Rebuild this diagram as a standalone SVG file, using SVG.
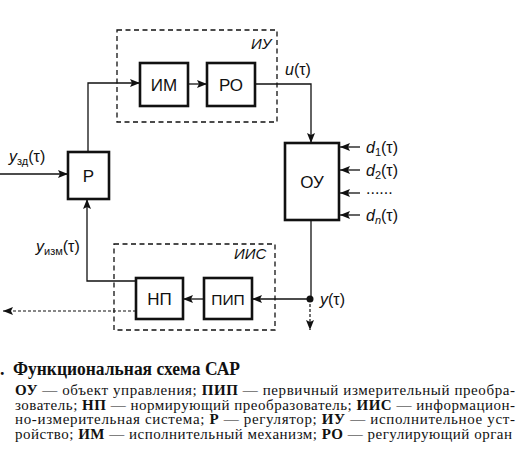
<svg xmlns="http://www.w3.org/2000/svg" width="531" height="474" viewBox="0 0 531 474">
<defs>
<marker id="ah" viewBox="0 0 10 8" refX="10" refY="4" markerWidth="11" markerHeight="8" markerUnits="userSpaceOnUse" orient="auto">
<path d="M0,0 L10,4 L0,8 L2,4 Z" fill="#111"/>
</marker>
</defs>
<style>
.box{fill:#fff;stroke:#111;stroke-width:2.6}
.grp{fill:none;stroke:#111;stroke-width:1.3;stroke-dasharray:5,3.5}
.ln{fill:none;stroke:#111;stroke-width:1.3}
.dl{fill:none;stroke:#111;stroke-width:1.2;stroke-dasharray:3,2}
.bl{font-family:"Liberation Sans",Arial,sans-serif;font-size:17px;fill:#111;text-anchor:middle}
.gl{font-family:"Liberation Sans",Arial,sans-serif;font-size:15px;font-style:italic;fill:#111}
.sl{font-family:"Liberation Sans",Arial,sans-serif;font-size:16px;fill:#111}
.i{font-style:italic}
.sub{font-size:11px}
.cap{font-family:"Liberation Serif","Times New Roman",serif;font-size:15px;fill:#111}
.ttl{font-family:"Liberation Serif","Times New Roman",serif;font-size:18px;font-weight:bold;fill:#111}
.b{font-weight:bold}
</style>
<rect width="531" height="474" fill="#fff"/>

<g id="IU-group">
<rect class="grp" x="117" y="30" width="160" height="92"/>
<text class="gl" x="251" y="49">ИУ</text>
</g>
<g id="IIS-group">
<rect class="grp" x="114" y="244" width="161" height="86"/>
<text class="gl" x="234" y="259">ИИС</text>
</g>

<g id="connectors">
<path class="ln" d="M0,174 H68" marker-end="url(#ah)"/>
<path class="ln" d="M88,152 V83 H140" marker-end="url(#ah)"/>
<path class="ln" d="M188,84 H207" marker-end="url(#ah)"/>
<path class="ln" d="M255,84 H311 V143" marker-end="url(#ah)"/>
<path class="ln" d="M360,147 H340" marker-end="url(#ah)"/>
<path class="ln" d="M360,170 H340" marker-end="url(#ah)"/>
<path class="ln" d="M360,193 H340" marker-end="url(#ah)"/>
<path class="ln" d="M360,215 H340" marker-end="url(#ah)"/>
<path class="ln" d="M311,220 V299"/>
<path class="ln" d="M309,299 H252" marker-end="url(#ah)"/>
<path class="ln" d="M204,299 H183" marker-end="url(#ah)"/>
<path class="ln" d="M136,281 H87 V199" marker-end="url(#ah)"/>
<path class="dl" d="M136,311 H3" marker-end="url(#ah)"/>
<path class="dl" d="M310,299 V330" marker-end="url(#ah)"/>
<circle cx="310" cy="299" r="3.5" fill="#111"/>
</g>

<g id="R">
<rect class="box" x="68" y="152" width="41" height="47"/>
<text class="bl" x="88.5" y="182">Р</text>
</g>
<g id="IM">
<rect class="box" x="140" y="63" width="48" height="43"/>
<text class="bl" x="164" y="91">ИМ</text>
</g>
<g id="RO">
<rect class="box" x="207" y="63" width="48" height="43"/>
<text class="bl" x="231" y="91">РО</text>
</g>
<g id="OU">
<rect class="box" x="285" y="143" width="54" height="77"/>
<text class="bl" x="312" y="188">ОУ</text>
</g>
<g id="NP">
<rect class="box" x="136" y="278" width="47" height="41"/>
<text class="bl" x="159.5" y="305">НП</text>
</g>
<g id="PIP">
<rect class="box" x="204" y="278" width="48" height="41"/>
<text class="bl" x="228" y="305" style="font-size:15.5px">ПИП</text>
</g>

<g id="signal-labels">
<text class="sl" x="9" y="162"><tspan class="i">y</tspan><tspan class="sub" dy="3">зд</tspan><tspan dy="-3">(τ)</tspan></text>
<text class="sl" x="36" y="252"><tspan class="i">y</tspan><tspan class="sub" dy="3">изм</tspan><tspan dy="-3">(τ)</tspan></text>
<text class="sl" x="285" y="75"><tspan class="i">u</tspan>(τ)</text>
<text class="sl" x="366" y="153"><tspan class="i">d</tspan><tspan class="sub" dy="3">1</tspan><tspan dy="-3">(τ)</tspan></text>
<text class="sl" x="366" y="176"><tspan class="i">d</tspan><tspan class="sub" dy="3">2</tspan><tspan dy="-3">(τ)</tspan></text>
<text class="sl" x="366" y="194">......</text>
<text class="sl" x="366" y="221"><tspan class="i">d</tspan><tspan class="sub i" dy="3">n</tspan><tspan dy="-3">(τ)</tspan></text>
<text class="sl" x="320" y="305"><tspan class="i">y</tspan>(τ)</text>
</g>

<g id="caption">
<text class="ttl" x="0" y="375">.</text>
<text class="ttl" x="13" y="375" textLength="227" lengthAdjust="spacingAndGlyphs">Функциональная схема САР</text>
<text class="cap" x="15" y="395" textLength="500" lengthAdjust="spacing"><tspan class="b">ОУ</tspan> — объект управления; <tspan class="b">ПИП</tspan> — первичный измерительный преобра-</text>
<text class="cap" x="15" y="409.5" textLength="500" lengthAdjust="spacing">зователь; <tspan class="b">НП</tspan> — нормирующий преобразователь; <tspan class="b">ИИС</tspan> — информацион-</text>
<text class="cap" x="15" y="424" textLength="500" lengthAdjust="spacing">но-измерительная система; <tspan class="b">Р</tspan> — регулятор; <tspan class="b">ИУ</tspan> — исполнительное уст-</text>
<text class="cap" x="15" y="438.5" textLength="497" lengthAdjust="spacing">ройство; <tspan class="b">ИМ</tspan> — исполнительный механизм; <tspan class="b">РО</tspan> — регулирующий орган</text>
</g>
</svg>
